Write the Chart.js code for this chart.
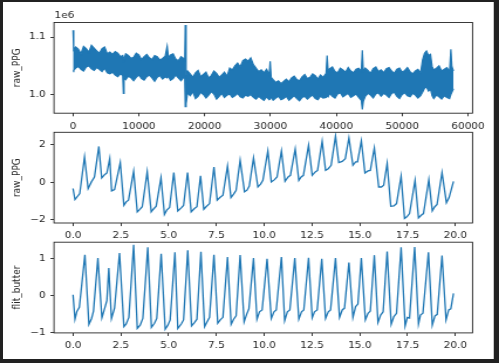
<!DOCTYPE html>
<html>
<head>
<meta charset="utf-8">
<title>raw_PPG / flit_butter</title>
<script src="https://cdn.jsdelivr.net/npm/chart.js@4.4.1/dist/chart.umd.min.js"></script>
<style>
  html, body { margin: 0; padding: 0; }
  body { width: 499px; height: 363px; background: #212121; position: relative; overflow: hidden; }
  #sheet { position: absolute; left: 3px; top: 2px; width: 490px; height: 357px; background: #fff; border-right: 1px solid #c8c8c8; }
  canvas { position: absolute; left: 0; }
</style>
</head>
<body>
<div id="sheet"></div>
<!-- the original figure was stretched sideways when it was pasted, so draw narrow and stretch -->
<canvas id="rawChart" width="426" height="125" style="top:10px;width:499px;height:125px"></canvas>
<canvas id="segChart" width="426" height="125" style="top:120px;width:499px;height:125px"></canvas>
<canvas id="filtChart" width="426" height="125" style="top:230px;width:499px;height:125px"></canvas>
<script>
// ----- data -----
// panel 1: whole recording (sample index vs raw_PPG, in units of 1e6).
// the trace is so dense it reads as a band, so keep its upper / lower edge
const rawIdx = [0, 100, 400, 800, 1200, 1600, 2000, 2400, 2800, 3200, 3600, 4000, 4400, 4800, 5200, 5600,
  6000, 6400, 6800, 7200, 7550, 7650, 7750, 8000, 8400, 8800, 9200, 9600, 10000, 10400, 10800, 11200,
  11600, 12000, 12400, 12800, 13200, 13600, 14000, 14300, 14500, 14800, 15200, 15600, 16000, 16400,
  16800, 16980, 17050, 17180, 17400, 17800, 18200, 18600, 19000, 19400, 19800, 20200, 20600, 21000,
  21400, 21800, 22200, 22600, 23000, 23400, 23800, 24200, 24600, 25000, 25400, 25800, 26200, 26600,
  27000, 27400, 27800, 28200, 28600, 29000, 29400, 29800, 29950, 30100, 30400, 30800, 31200, 31600,
  32000, 32400, 32800, 33200, 33600, 34000, 34400, 34800, 35200, 35600, 36000, 36400, 36800, 37200,
  37600, 38000, 38450, 38600, 38750, 39000, 39400, 39800, 40200, 40600, 41000, 41400, 41800, 42200,
  42600, 43000, 43400, 43800, 43950, 44100, 44400, 44800, 45200, 45600, 46000, 46400, 46800, 47200,
  47600, 48000, 48400, 48800, 49200, 49600, 50000, 50400, 50800, 51200, 51600, 52000, 52400, 52800,
  53100, 53400, 53700, 54000, 54300, 54550, 54800, 55200, 55600, 56000, 56400, 56800, 57200, 57400,
  57550, 57800];
const rawHi = [1.112, 1.078, 1.083, 1.079, 1.071, 1.084, 1.080, 1.074, 1.086, 1.081, 1.076, 1.072, 1.080, 1.083, 1.071, 1.074,
  1.070, 1.075, 1.072, 1.066, 1.068, 1.064, 1.062, 1.071, 1.068, 1.063, 1.065, 1.072, 1.069, 1.061, 1.066, 1.070,
  1.064, 1.061, 1.068, 1.066, 1.060, 1.063, 1.067, 1.084, 1.064, 1.069, 1.071, 1.062, 1.059, 1.066,
  1.063, 1.060, 1.121, 1.034, 1.041, 1.036, 1.030, 1.038, 1.042, 1.031, 1.035, 1.039, 1.029, 1.033,
  1.041, 1.037, 1.030, 1.034, 1.039, 1.032, 1.046, 1.043, 1.050, 1.055, 1.048, 1.059, 1.062, 1.058,
  1.064, 1.052, 1.046, 1.040, 1.043, 1.038, 1.044, 1.035, 1.058, 1.030, 1.026, 1.021, 1.024, 1.019,
  1.023, 1.027, 1.022, 1.029, 1.032, 1.026, 1.024, 1.031, 1.035, 1.028, 1.030, 1.036, 1.033, 1.027,
  1.034, 1.030, 1.037, 1.068, 1.042, 1.045, 1.048, 1.040, 1.038, 1.046, 1.043, 1.039, 1.047, 1.041,
  1.038, 1.044, 1.046, 1.041, 1.077, 1.040, 1.046, 1.042, 1.037, 1.045, 1.048, 1.040, 1.043, 1.038,
  1.045, 1.047, 1.041, 1.037, 1.044, 1.046, 1.039, 1.042, 1.047, 1.040, 1.036, 1.041, 1.044, 1.038,
  1.060, 1.072, 1.076, 1.068, 1.070, 1.049, 1.043, 1.046, 1.050, 1.041, 1.044, 1.047, 1.040, 1.079,
  1.049, 1.041];
const rawLo = [1.040, 1.042, 1.046, 1.049, 1.044, 1.041, 1.048, 1.050, 1.045, 1.042, 1.047, 1.044, 1.040, 1.046, 1.038, 1.036,
  1.039, 1.034, 1.031, 1.036, 1.033, 1.002, 1.030, 1.026, 1.032, 1.029, 1.024, 1.030, 1.034, 1.028, 1.025, 1.031,
  1.034, 1.029, 1.023, 1.030, 1.033, 1.027, 1.031, 1.029, 1.032, 1.025, 1.028, 1.034, 1.029, 1.024,
  1.030, 1.028, 0.979, 0.984, 1.003, 0.998, 1.005, 0.993, 0.997, 1.004, 1.000, 0.994, 0.999, 1.005,
  1.001, 0.992, 0.997, 1.002, 0.995, 0.999, 1.001, 0.995, 0.998, 1.002, 0.996, 0.994, 0.999, 0.997,
  1.000, 0.995, 0.992, 0.997, 0.993, 0.990, 0.996, 0.991, 0.992, 0.996, 0.990, 0.994, 0.997, 0.991,
  0.993, 0.997, 0.990, 0.994, 0.998, 0.993, 0.989, 0.995, 0.997, 0.992, 0.996, 0.999, 0.993, 0.991,
  0.997, 0.994, 0.995, 0.998, 0.996, 1.002, 0.997, 0.994, 1.001, 1.003, 0.996, 0.999, 1.002, 0.995,
  0.998, 1.001, 0.995, 0.990, 0.974, 0.988, 0.997, 1.002, 0.999, 0.994, 1.001, 1.003, 0.997, 1.002,
  0.999, 0.995, 1.002, 1.004, 0.997, 0.993, 1.000, 1.003, 0.998, 0.996, 1.002, 0.999, 0.994, 0.998,
  1.004, 1.011, 1.013, 1.006, 1.010, 0.998, 0.993, 0.999, 0.996, 0.992, 0.998, 0.995, 0.993, 1.000,
  1.004, 1.010];

// panel 2: first 20 s of raw_PPG (normalised)
const segTime = [0, 0.1, 0.35, 0.6, 0.79, 0.96, 1.12, 1.35, 1.5, 1.65, 1.77, 1.92, 2.02, 2.17, 2.47,
  2.66, 2.78, 2.9, 3.17, 3.36, 3.48, 3.62, 3.88, 4.09, 4.2, 4.35, 4.6, 4.78, 4.9, 5.05, 5.27,
  5.48, 5.66, 5.78, 5.99, 6.18, 6.35, 6.48, 6.67, 6.84, 6.96, 7.14, 7.37, 7.54, 7.68, 7.84, 8.08,
  8.26, 8.4, 8.53, 8.74, 8.97, 9.1, 9.22, 9.44, 9.67, 9.81, 9.93, 10.19, 10.37, 10.54, 10.67, 10.9,
  11.09, 11.25, 11.37, 11.62, 11.81, 11.93, 12.05, 12.32, 12.51, 12.67, 12.79, 13.03, 13.21, 13.35,
  13.5, 13.73, 13.9, 14.08, 14.24, 14.43, 14.64, 14.78, 14.88, 15.08, 15.27, 15.43, 15.55, 15.76,
  15.99, 16.13, 16.25, 16.43, 16.62, 16.78, 16.92, 17.16, 17.34, 17.46, 17.6, 17.89, 18.07, 18.21,
  18.33, 18.61, 18.79, 18.91, 19.04, 19.3, 19.53, 19.67, 19.9];
const segRaw = [-0.33, -0.92, -0.6, 1.34, -0.34, 0.02, 0.28, 1.9, 0.23, 0.4, 0.49, 1.25, -0.46, -0.39, 1.04,
  -1.22, -1.04, -0.95, 0.58, -1.57, -1.45, -1.3, 0.55, -1.57, -1.43, -1.27, 0.23, -1.71, -1.48, -1.34, 0.51,
  -1.52, -1.36, -1.23, 0.51, -1.57, -1.39, -1.3, 0.34, -1.43, -1.3, -1.13, 0.81, -0.95, -0.81, -0.69, 0.86,
  -0.81, -0.63, -0.42, 1.16, -0.51, -0.42, -0.2, 1.29, -0.25, -0.1, 0.1, 1.66, 0.02, 0.14, 0.28, 1.66,
  0.05, 0.28, 0.37, 1.76, 0.1, 0.28, 0.37, 1.96, 0.37, 0.55, 0.63, 2.17, 0.63, 0.72,
  0.9, 2.45, 1.04, 1.11, 1.25, 2.35, 0.9, 1.08, 1.08, 2.19, 0.49, 0.6, 0.63, 1.82,
  -0.25, -0.25, -0.16, 0.99, -1.27, -1.25, -1.13, 0.32, -1.92, -1.83, -1.66, 0.1, -1.89, -1.75,
  -1.66, 0.14, -1.52, -1.31, -1.18, 0.51, -1.09, -0.81, 0.05];

// panel 3: same 20 s after the Butterworth filter
const filtTime = [0, 0.1, 0.2, 0.33, 0.62, 0.83, 0.97, 1.07, 1.3, 1.51, 1.62, 1.77, 1.87, 2.01, 2.17, 2.43,
  2.66, 2.78, 2.92, 3.17, 3.36, 3.51, 3.65, 3.91, 4.1, 4.26, 4.38, 4.61, 4.82, 4.96, 5.08, 5.33,
  5.48, 5.66, 5.78, 6.0, 6.2, 6.35, 6.48, 6.69, 6.88, 7.0, 7.14, 7.37, 7.57, 7.7, 7.84, 8.08,
  8.27, 8.4, 8.53, 8.74, 8.95, 9.08, 9.2, 9.44, 9.62, 9.75, 9.89, 10.15, 10.37, 10.51, 10.63, 10.9,
  11.07, 11.21, 11.34, 11.6, 11.81, 11.95, 12.07, 12.32, 12.51, 12.63, 12.77, 13.01, 13.21, 13.35,
  13.47, 13.73, 13.94, 14.08, 14.2, 14.43, 14.64, 14.78, 14.9, 15.08, 15.29, 15.43, 15.55, 15.76,
  15.95, 16.09, 16.22, 16.43, 16.64, 16.78, 16.92, 17.16, 17.37, 17.49, 17.6, 17.87, 18.07, 18.17,
  18.3, 18.59, 18.79, 18.93, 19.05, 19.3, 19.51, 19.65, 19.76, 19.9];
const filtButter = [0.03, -0.63, -0.42, -0.31, 1.11, -0.77, -0.61, -0.41, 1.02, -0.59, -0.4, -0.13, 0.75, -0.61, -0.33, 1.16,
  -0.83, -0.76, -0.58, 1.38, -0.88, -0.79, -0.61, 1.31, -0.85, -0.74, -0.61, 1.14, -0.9, -0.79, -0.65, 1.18,
  -0.88, -0.76, -0.65, 1.23, -0.81, -0.72, -0.63, 1.19, -0.83, -0.71, -0.58, 1.11, -0.74, -0.65, -0.58, 1.05,
  -0.77, -0.63, -0.54, 1.1, -0.7, -0.5, -0.35, 1.02, -0.63, -0.43, -0.38, 1.0, -0.61, -0.43, -0.38, 1.05,
  -0.67, -0.43, -0.38, 1.02, -0.63, -0.43, -0.38, 1.03, -0.59, -0.43, -0.38, 1.0, -0.61, -0.43,
  -0.38, 1.02, -0.58, -0.38, -0.33, 0.9, -0.58, -0.29, -0.22, 1.02, -0.65, -0.47, -0.41, 1.1,
  -0.72, -0.52, -0.43, 1.2, -0.77, -0.56, -0.47, 1.31, -0.81, -0.58, -0.6, 1.32, -0.76, -0.52,
  -0.47, 1.18, -0.79, -0.54, -0.5, 1.09, -0.65, -0.38, -0.35, 0.07];

// tick values
const rawXTicks = [0, 10000, 20000, 30000, 40000, 50000, 60000];
const rawYTicks = [1.0, 1.1];
const timeTicks = [0, 2.5, 5, 7.5, 10, 12.5, 15, 17.5, 20];
const segYTicks = [-2, 0, 2];
const filtYTicks = [-1, 0, 1];

// ----- layout (page px, matches the pasted matplotlib figure) -----
const BLUE = '#1f77b4';
const INK = '#262626';
const FONT = { family: 'DejaVu Sans', size: 9 };
const PAGE_W = 499, CANVAS_W = 426, CANVAS_H = 125;
const SX = PAGE_W / CANVAS_W;   // sideways stretch of the canvases
const AREA_LEFT = 54, AREA_RIGHT = 472.5, AREA_H = 90.7, XAXIS_H = 20;

function pts(xs, ys) {
  return xs.map((x, i) => ({ x, y: ys[i] }));
}

function minus(v) {
  return String(v).replace('-', '\u2212');
}

// spines on all four sides, plus the "1e6" offset text
const frame = {
  id: 'frame',
  afterDraw(chart) {
    const { ctx, chartArea: a } = chart;
    ctx.save();
    ctx.strokeStyle = INK;
    ctx.lineWidth = 0.9;
    ctx.strokeRect(a.left, a.top, a.right - a.left, a.bottom - a.top);
    const off = chart.options.plugins.frame.offsetText;
    if (off) {
      ctx.font = `${FONT.size}px ${FONT.family}`;
      ctx.fillStyle = INK;
      ctx.textBaseline = 'middle';
      ctx.fillText(off, a.left + 0.5, a.top - 7);
    }
    ctx.restore();
  }
};

function makeChart(id, areaTop, datasets, xr, yr) {
  const canvas = document.getElementById(id);
  const padTop = areaTop - parseFloat(canvas.style.top);
  return new Chart(canvas.getContext('2d'), {
    type: 'line',
    data: { datasets },
    plugins: [frame],
    options: {
      responsive: false,
      animation: false,
      events: [],
      layout: {
        padding: {
          top: padTop, left: 0,
          right: (PAGE_W - AREA_RIGHT) / SX,
          bottom: CANVAS_H - padTop - AREA_H - XAXIS_H
        }
      },
      elements: { point: { radius: 0 }, line: { tension: 0 } },
      plugins: {
        legend: { display: false },
        tooltip: { enabled: false },
        frame: { offsetText: yr.offsetText || '' }
      },
      scales: {
        x: {
          type: 'linear',
          min: xr.min, max: xr.max,
          afterBuildTicks: s => { s.ticks = xr.ticks.map(v => ({ value: v })); },
          afterFit: s => { s.height = XAXIS_H; },
          ticks: { callback: xr.fmt, font: FONT, color: INK, padding: 4.6, maxRotation: 0, autoSkip: false },
          grid: { drawOnChartArea: false, tickLength: 3.1, color: INK, lineWidth: 0.9 },
          border: { display: false }
        },
        y: {
          type: 'linear',
          min: yr.min, max: yr.max,
          afterBuildTicks: s => { s.ticks = yr.ticks.map(v => ({ value: v })); },
          afterFit: s => { s.width = AREA_LEFT / SX; },
          ticks: { callback: yr.fmt, font: FONT, color: INK, padding: 4, autoSkip: false },
          grid: { drawOnChartArea: false, tickLength: 3.1, color: INK, lineWidth: 0.9 },
          border: { display: false },
          title: { display: true, text: yr.title, font: FONT, color: INK, padding: { top: 16.7 / SX - 5.4, bottom: 0 } }
        }
      }
    }
  });
}

// ----- panel 1: raw_PPG, full recording -----
makeChart('rawChart', 22.5, [
  { data: pts(rawIdx, rawHi), borderColor: BLUE, backgroundColor: BLUE, borderWidth: 1.2, fill: '+1' },
  { data: pts(rawIdx, rawLo), borderColor: BLUE, borderWidth: 1.2, fill: false }
], { min: -2890, max: 60690, ticks: rawXTicks, fmt: v => String(v) },
   { min: 0.9675, max: 1.1255, ticks: rawYTicks, fmt: v => v.toFixed(1), title: 'raw_PPG', offsetText: '1e6' });

// ----- panel 2: raw_PPG, first 20 s -----
makeChart('segChart', 132.3, [
  { data: pts(segTime, segRaw), borderColor: BLUE, borderWidth: 1.3, fill: false }
], { min: -0.995, max: 20.895, ticks: timeTicks, fmt: v => v.toFixed(1) },
   { min: -2.16, max: 2.65, ticks: segYTicks, fmt: minus, title: 'raw_PPG' });

// ----- panel 3: filtered -----
makeChart('filtChart', 242.2, [
  { data: pts(filtTime, filtButter), borderColor: BLUE, borderWidth: 1.3, fill: false }
], { min: -0.995, max: 20.895, ticks: timeTicks, fmt: v => v.toFixed(1) },
   { min: -1.0, max: 1.45, ticks: filtYTicks, fmt: minus, title: 'flit_butter' });
</script>
</body>
</html>
